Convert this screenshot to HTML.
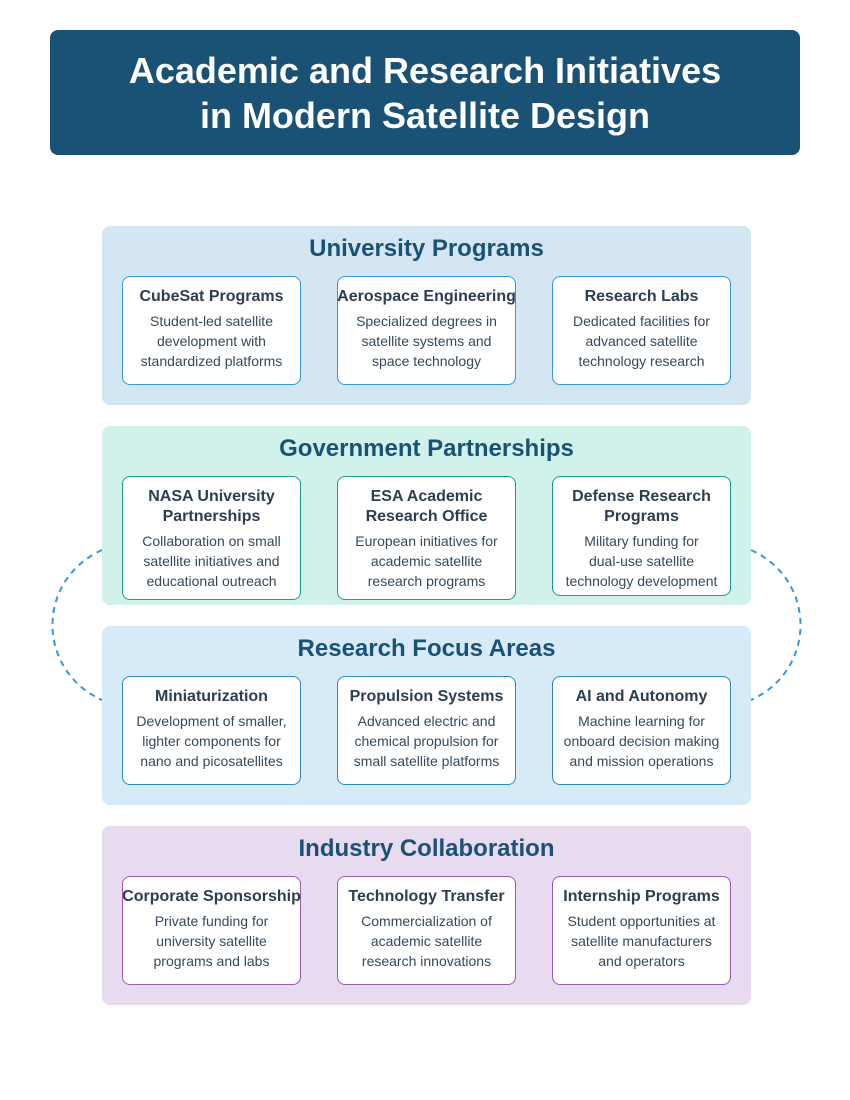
<!DOCTYPE html>
<html><head><meta charset="utf-8"><style>
*{margin:0;padding:0;box-sizing:border-box}
body{width:850px;height:1100px;background:#fff;font-family:"Liberation Sans",sans-serif;position:relative;overflow:hidden}
.hdr{position:absolute;left:50px;top:30px;width:750px;height:125px;background:#1a5276;border-radius:8px;color:#fff;font-weight:bold;font-size:36px;text-align:center;line-height:45px;padding-top:18px}
.sec{position:absolute;left:102px;width:649px;height:179px;border-radius:8px}
.sec h2{position:absolute;left:0;right:0;top:9px;text-align:center;font-size:24px;color:#1a5276;line-height:28px}
.card{position:absolute;top:50px;width:179px;height:109px;background:#fff;border:1px solid;border-radius:8px;text-align:center;color:#2c3e50;padding-top:10px}
.card b{display:block;font-size:16px;line-height:20px;margin-bottom:4px;white-space:nowrap;margin-left:-5px;margin-right:-5px}
.card p{font-size:14px;line-height:20px;color:#34495e;white-space:nowrap}
.c1{left:20px}.c2{left:235px}.c3{left:450px}
</style></head><body>
<div class="hdr">Academic and Research Initiatives<br>in Modern Satellite Design</div>
<svg style="position:absolute;left:0;top:0" width="850" height="1100"><path d="M102 550 C36 580 36 670 102 700" fill="none" stroke="#3498db" stroke-width="2" stroke-dasharray="6,5"/><path d="M751 550 C817 580 817 670 751 700" fill="none" stroke="#3498db" stroke-width="2" stroke-dasharray="6,5"/></svg>
<div class="sec" style="top:226px;background:#d4e6f1"><h2>University Programs</h2>
<div class="card c1" style="border-color:#3498db"><b>CubeSat Programs</b><p>Student-led satellite<br>development with<br>standardized platforms</p></div>
<div class="card c2" style="border-color:#3498db"><b>Aerospace Engineering</b><p>Specialized degrees in<br>satellite systems and<br>space technology</p></div>
<div class="card c3" style="border-color:#3498db"><b>Research Labs</b><p>Dedicated facilities for<br>advanced satellite<br>technology research</p></div></div>
<div class="sec" style="top:426px;background:#d1f2eb"><h2>Government Partnerships</h2>
<div class="card c1" style="border-color:#16a085;height:124px"><b>NASA University<br>Partnerships</b><p>Collaboration on small<br>satellite initiatives and<br>educational outreach</p></div>
<div class="card c2" style="border-color:#16a085;height:124px"><b>ESA Academic<br>Research Office</b><p>European initiatives for<br>academic satellite<br>research programs</p></div>
<div class="card c3" style="border-color:#16a085;height:120px"><b>Defense Research<br>Programs</b><p>Military funding for<br>dual-use satellite<br>technology development</p></div></div>
<div class="sec" style="top:626px;background:#d6eaf8"><h2>Research Focus Areas</h2>
<div class="card c1" style="border-color:#2e86c1"><b>Miniaturization</b><p>Development of smaller,<br>lighter components for<br>nano and picosatellites</p></div>
<div class="card c2" style="border-color:#2e86c1"><b>Propulsion Systems</b><p>Advanced electric and<br>chemical propulsion for<br>small satellite platforms</p></div>
<div class="card c3" style="border-color:#2e86c1"><b>AI and Autonomy</b><p>Machine learning for<br>onboard decision making<br>and mission operations</p></div></div>
<div class="sec" style="top:826px;background:#e8daef"><h2>Industry Collaboration</h2>
<div class="card c1" style="border-color:#9b59b6"><b>Corporate Sponsorship</b><p>Private funding for<br>university satellite<br>programs and labs</p></div>
<div class="card c2" style="border-color:#9b59b6"><b>Technology Transfer</b><p>Commercialization of<br>academic satellite<br>research innovations</p></div>
<div class="card c3" style="border-color:#9b59b6"><b>Internship Programs</b><p>Student opportunities at<br>satellite manufacturers<br>and operators</p></div></div>
</body></html>
